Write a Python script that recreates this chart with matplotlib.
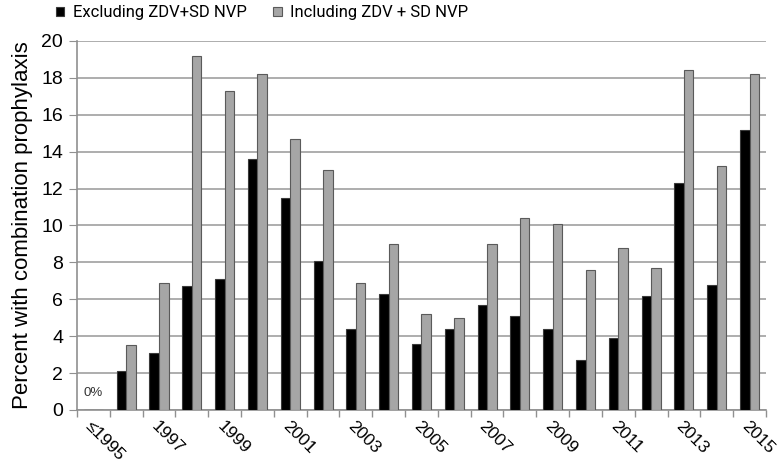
import matplotlib
matplotlib.use("Agg")
import matplotlib.pyplot as plt
import numpy as np

categories = ["≤1995", "1996", "1997", "1998", "1999", "2000", "2001", "2002", "2003",
              "2004", "2005", "2006", "2007", "2008", "2009", "2010", "2011", "2012",
              "2013", "2014", "2015"]
excluding = [0, 2.1, 3.1, 6.7, 7.1, 13.6, 11.5, 8.1, 4.4, 6.3, 3.6, 4.4, 5.7, 5.1,
             4.4, 2.7, 3.9, 6.2, 12.3, 6.8, 15.2]
including = [0, 3.5, 6.9, 19.2, 17.3, 18.2, 14.7, 13.0, 6.9, 9.0, 5.2, 5.0, 9.0, 10.4,
             10.1, 7.6, 8.8, 7.7, 18.4, 13.2, 18.2]
yticks = [0, 2, 4, 6, 8, 10, 12, 14, 16, 18, 20]

plt.rcParams['font.family'] = ['Liberation Sans', 'DejaVu Sans']

fig = plt.figure(figsize=(7.8, 4.63), dpi=100)
ax = fig.add_axes([0.0987, 0.1145, 0.8833, 0.797])

x = np.arange(len(categories))
w = 0.29
ax.bar(x - w / 2, excluding, w, color='black', edgecolor='#3a3a3a', linewidth=0.8,
       label='Excluding ZDV+SD NVP', zorder=3)
ax.bar(x + w / 2, including, w, color='#a6a6a6', edgecolor='#5a5a5a', linewidth=0.8,
       label='Including ZDV + SD NVP', zorder=3)

ax.set_xlim(-0.5, len(categories) - 0.5)
ax.set_ylim(0, 20)
ax.set_yticks(yticks)
ax.set_yticklabels([str(v) for v in yticks], fontsize=14)
ax.yaxis.grid(True, color='#a0a0a0', linewidth=1.2, zorder=0)
ax.set_axisbelow(True)
ax.tick_params(axis='y', length=6, color='#909090', pad=4)

for s in ['top', 'right']:
    ax.spines[s].set_visible(False)
for s in ['left', 'bottom']:
    ax.spines[s].set_color('#909090')
    ax.spines[s].set_linewidth(1.2)

# x ticks: marks at category boundaries, labels at every other category
ax.set_xticks(np.arange(-0.5, len(categories), 1.0), minor=True)
ax.tick_params(axis='x', which='minor', length=5, color='#909090', width=1)
label_idx = list(range(0, len(categories), 2))
ax.set_xticks(label_idx)
ax.set_xticklabels([categories[i] for i in label_idx], rotation=-45, ha='left',
                   rotation_mode='anchor', fontsize=12.5)
ax.tick_params(axis='x', which='major', length=0, pad=6)

ax.set_ylabel('Percent with combination prophylaxis', fontsize=16, labelpad=6)

ax.text(0, 0.9, '0%', fontsize=9.5, color='#333333', ha='center', va='center')

fig.legend(*ax.get_legend_handles_labels(), loc='center', bbox_to_anchor=(0.336, 0.972),
           ncol=2, frameon=False, prop={'family': ['Roboto', 'Liberation Sans'], 'size': 12},
           handlelength=0.5, handleheight=0.5, columnspacing=1.6,
           handletextpad=0.5)

fig.savefig('out.png', dpi=100)
